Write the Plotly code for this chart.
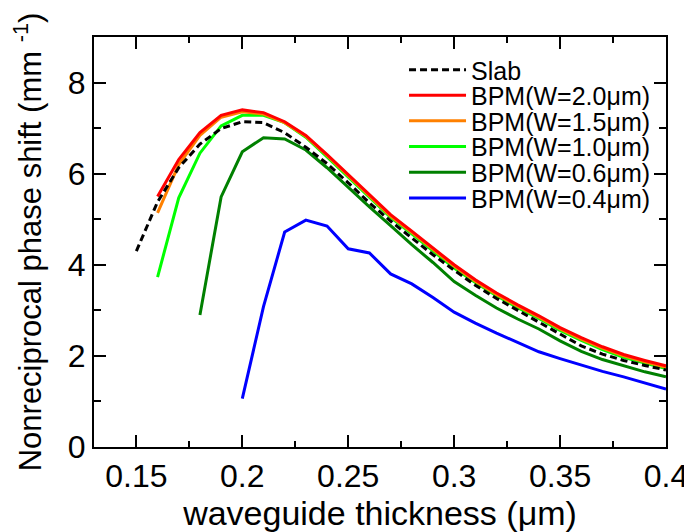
import plotly.graph_objects as go

# thickness grid (um)
x_slab = [0.15, 0.16, 0.17, 0.18, 0.19, 0.20, 0.21, 0.22, 0.23, 0.24, 0.25, 0.26, 0.27,
          0.28, 0.29, 0.30, 0.31, 0.32, 0.33, 0.34, 0.35, 0.36, 0.37, 0.38, 0.39, 0.40]
y_slab = [4.30, 5.38, 6.13, 6.65, 6.99, 7.14, 7.12, 6.90, 6.58, 6.22, 5.80, 5.36, 4.96,
          4.59, 4.22, 3.88, 3.55, 3.26, 3.00, 2.74, 2.47, 2.22, 2.04, 1.90, 1.79, 1.69]

x_w20 = [0.16, 0.17, 0.18, 0.19, 0.20, 0.21, 0.22, 0.23, 0.24, 0.25, 0.26, 0.27, 0.28,
         0.29, 0.30, 0.31, 0.32, 0.33, 0.34, 0.35, 0.36, 0.37, 0.38, 0.39, 0.40]
y_w20 = [5.50, 6.31, 6.90, 7.28, 7.40, 7.34, 7.14, 6.84, 6.42, 5.98, 5.54, 5.10, 4.74,
         4.37, 4.00, 3.67, 3.38, 3.12, 2.88, 2.62, 2.40, 2.20, 2.03, 1.90, 1.78]

x_w15 = x_w20
y_w15 = [5.14, 6.20, 6.84, 7.24, 7.36, 7.31, 7.12, 6.82, 6.40, 5.95, 5.51, 5.07, 4.71,
         4.34, 3.97, 3.64, 3.35, 3.09, 2.85, 2.59, 2.37, 2.17, 2.00, 1.87, 1.75]

x_w10 = x_w20
y_w10 = [3.73, 5.47, 6.45, 7.05, 7.28, 7.28, 7.12, 6.80, 6.37, 5.92, 5.48, 5.04, 4.68,
         4.31, 3.93, 3.61, 3.32, 3.06, 2.82, 2.56, 2.34, 2.14, 1.97, 1.84, 1.72]

x_w06 = [0.18, 0.19, 0.20, 0.21, 0.22, 0.23, 0.24, 0.25, 0.26, 0.27, 0.28, 0.29, 0.30,
         0.31, 0.32, 0.33, 0.34, 0.35, 0.36, 0.37, 0.38, 0.39, 0.40]
y_w06 = [2.90, 5.49, 6.48, 6.79, 6.76, 6.52, 6.13, 5.69, 5.27, 4.86, 4.44, 4.05, 3.63,
         3.33, 3.05, 2.81, 2.59, 2.33, 2.10, 1.92, 1.78, 1.65, 1.54]

x_w04 = [0.20, 0.21, 0.22, 0.23, 0.24, 0.25, 0.26, 0.27, 0.28, 0.29, 0.30, 0.31, 0.32,
         0.33, 0.34, 0.35, 0.36, 0.37, 0.38, 0.39, 0.40]
y_w04 = [1.06, 3.08, 4.72, 4.98, 4.85, 4.35, 4.26, 3.80, 3.58, 3.28, 2.96, 2.72, 2.50,
         2.29, 2.09, 1.94, 1.80, 1.66, 1.54, 1.40, 1.27]

names = ["Slab", "BPM(W=2.0\u03bcm)", "BPM(W=1.5\u03bcm)", "BPM(W=1.0\u03bcm)",
         "BPM(W=0.6\u03bcm)", "BPM(W=0.4\u03bcm)"]
colors = ["black", "#ff0000", "#ff8000", "#00ff00", "#008000", "#0000ff"]
xs = [x_slab, x_w20, x_w15, x_w10, x_w06, x_w04]
ys = [y_slab, y_w20, y_w15, y_w10, y_w06, y_w04]

x_ticks = [0.15, 0.2, 0.25, 0.3, 0.35, 0.4]
x_ticklabels = ["0.15", "0.2", "0.25", "0.3", "0.35", "0.4"]
y_ticks = [0, 2, 4, 6, 8]

FONT = "Arial, Liberation Sans, sans-serif"

fig = go.Figure()
legend_ids = ["legend", "legend2", "legend3", "legend4", "legend5", "legend6"]
order = [5, 4, 3, 2, 1, 0]
for i in order:
    fig.add_trace(go.Scatter(
        x=xs[i], y=ys[i], mode="lines", name=names[i],
        line=dict(color=colors[i], width=3, dash="7px,4px" if i == 0 else "solid"),
        legend=legend_ids[i], showlegend=True,
    ))

# page has an 8px body margin, so the plot area is placed 8px up/left
top_px, bot_px = 37.0, 447.0
entry_px = [70, 95.5, 121, 146.7, 172.5, 198.3]
legend_common = dict(x=0.542, xanchor="left", yanchor="middle",
                     bgcolor="rgba(0,0,0,0)", borderwidth=0,
                     font=dict(family=FONT, size=25, color="black"),
                     itemwidth=57, tracegroupgap=0)
layout_legends = {}
for i, lid in enumerate(legend_ids):
    yp = (bot_px - entry_px[i]) / (bot_px - top_px)
    layout_legends[lid] = dict(legend_common, y=yp)

fig.update_layout(
    width=684, height=524,
    margin=dict(l=86, r=26, t=29, b=85, autoexpand=False),
    paper_bgcolor="white", plot_bgcolor="white",
    font=dict(family=FONT, size=30, color="black"),
    showlegend=True,
    **layout_legends,
)

fig.update_xaxes(
    range=[0.13, 0.4], tickvals=x_ticks, ticktext=x_ticklabels,
    ticks="inside", ticklen=12, tickwidth=1.5, tickcolor="black",
    minor=dict(tickvals=[0.175, 0.225, 0.275, 0.325, 0.375], ticks="inside",
               ticklen=6, tickwidth=1.5, tickcolor="black"),
    showline=True, linecolor="black", linewidth=2, mirror="ticks",
    showgrid=False, zeroline=False, automargin=True,
    tickfont=dict(family=FONT, size=32),
    title=dict(text="waveguide thickness (\u03bcm)", font=dict(family=FONT, size=34), standoff=0),
)
fig.update_yaxes(
    range=[0, 9], tickvals=y_ticks,
    ticks="inside", ticklen=12, tickwidth=1.5, tickcolor="black",
    minor=dict(tickvals=[1, 3, 5, 7], ticks="inside", ticklen=7, tickwidth=1.5, tickcolor="black"),
    showline=True, linecolor="black", linewidth=2, mirror="ticks",
    showgrid=False, zeroline=False, automargin=True,
    tickfont=dict(family=FONT, size=32),
    title=dict(text="Nonreciprocal phase shift (mm <sup>-1</sup>)", font=dict(family=FONT, size=31), standoff=18),
)

fig.write_html("out.html")
